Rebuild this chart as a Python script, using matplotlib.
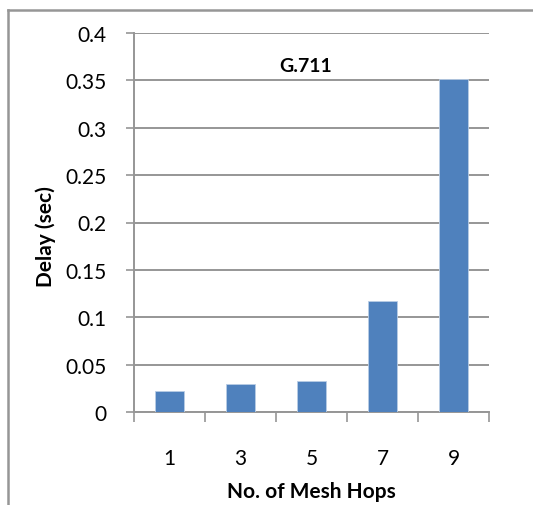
import matplotlib.pyplot as plt
from matplotlib.lines import Line2D

# data
hops = ["1", "3", "5", "7", "9"]
delay = [0.0225, 0.030, 0.0325, 0.117, 0.351]
y_ticks = [0, 0.05, 0.1, 0.15, 0.2, 0.25, 0.3, 0.35, 0.4]
y_labels = ["0", "0.05", "0.1", "0.15", "0.2", "0.25", "0.3", "0.35", "0.4"]

plt.rcParams["font.family"] = ["Lato", "DejaVu Sans"]
grey = "#969696"

W, H = 533, 506
fig = plt.figure(figsize=(W / 100, H / 100), dpi=100)
ax = fig.add_axes([134 / W, 1 - 413 / H, (489 - 134) / W, (413 - 34) / H])

x = list(range(len(hops)))
ax.bar(x, delay, width=0.4, color="#4F81BD", edgecolor="#B9CDE5", linewidth=0.6, zorder=3)

ax.set_xlim(-0.5, len(hops) - 0.5)
ax.set_ylim(0, 0.4)
ax.set_yticks(y_ticks)
ax.set_yticklabels(y_labels)
ax.set_xticks(x)
ax.set_xticklabels(hops)
ax.set_xticks([i - 0.5 for i in range(len(hops) + 1)], minor=True)

ax.tick_params(axis="x", which="major", length=0, pad=26, labelsize=15)
ax.tick_params(axis="x", which="minor", length=7, width=1.2, color=grey, direction="out")
ax.tick_params(axis="y", length=6, width=1.2, color=grey, pad=14, labelsize=15)

ax.grid(axis="y", color=grey, linewidth=1.4, zorder=0)
for s in ["top", "right"]:
    ax.spines[s].set_visible(False)
for s in ["left", "bottom"]:
    ax.spines[s].set_color(grey)
    ax.spines[s].set_linewidth(1.4)

ax.text(306 / W, 1 - 67 / H, "G.711", transform=fig.transFigure, ha="center", va="center",
        fontsize=14, fontweight="bold")
fig.text(46 / W, 1 - 237 / H, "Delay (sec)", rotation=90, ha="center", va="center",
         fontsize=15, fontweight="bold")
fig.text(311 / W, 1 - 492 / H, "No. of Mesh Hops", ha="center", va="center",
         fontsize=15, fontweight="bold")

# outer chart border (partly cropped)
fig.add_artist(Line2D([8 / W, 8 / W], [0, 1 - 11 / H], transform=fig.transFigure, color=grey, linewidth=1.8))
fig.add_artist(Line2D([8 / W, 1], [1 - 11 / H, 1 - 11 / H], transform=fig.transFigure, color=grey, linewidth=1.8))

fig.savefig("out.png", dpi=100)
